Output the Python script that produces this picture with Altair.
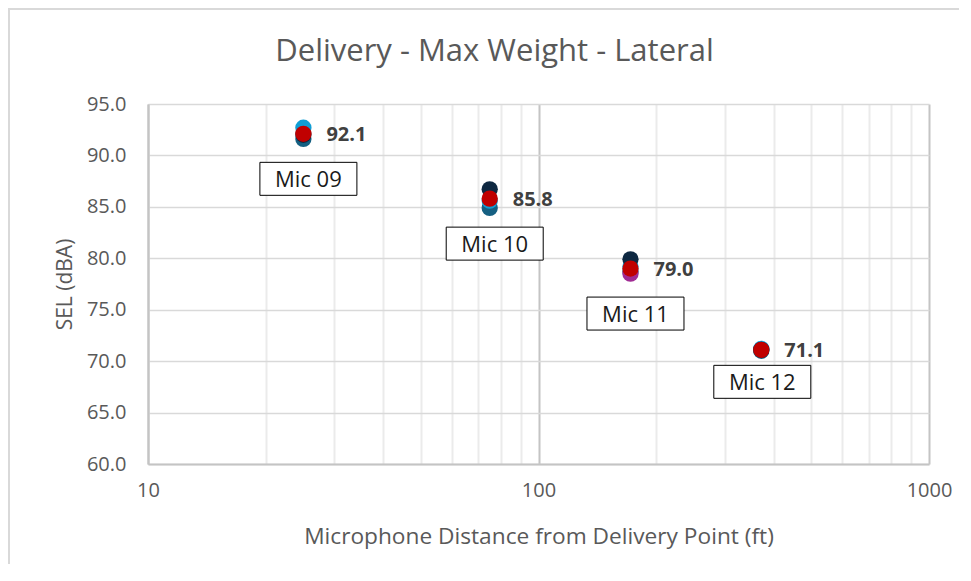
import altair as alt
import pandas as pd
import numpy as np

# ---- data ----
mics = ["Mic 09", "Mic 10", "Mic 11", "Mic 12"]
distance_ft = [25, 75, 172, 372]
event_names = ["Event 1", "Event 2", "Event 3", "Event 4"]
event_1 = [91.6, 84.9, 78.7, 71.0]
event_2 = [92.7, 85.6, 79.2, 71.2]
event_3 = [92.0, 86.7, 79.9, 71.1]
event_4 = [np.nan, np.nan, 78.5, np.nan]
mean_sel = [92.1, 85.8, 79.0, 71.1]
event_colors = ["#156082", "#0F9ED5", "#0E2841", "#A02B93"]
x_ticks = [10, 20, 30, 40, 50, 60, 70, 80, 90, 100,
           200, 300, 400, 500, 600, 700, 800, 900, 1000]
y_ticks = [60, 65, 70, 75, 80, 85, 90, 95]

rows = []
for name, vals in zip(event_names, [event_1, event_2, event_3, event_4]):
    for m, d, v in zip(mics, distance_ft, vals):
        if not np.isnan(v):
            rows.append({"mic": m, "distance": d, "event": name, "sel": v})
events_df = pd.DataFrame(rows)
mean_df = pd.DataFrame({"mic": mics, "distance": distance_ft, "sel": mean_sel})

FONT = "Open Sans"
GREY = "#595959"

x_enc = alt.X(
    "distance:Q",
    scale=alt.Scale(type="log", domain=[10, 1000], nice=False),
    axis=alt.Axis(
        values=x_ticks,
        title="Microphone Distance from Delivery Point (ft)",
        labelExpr="(datum.value == 10 || datum.value == 100 || datum.value == 1000) ? format(datum.value, 'd') : ''",
        labelOverlap=False, labelFlush=False, labelBound=False,
        grid=True,
        gridColor={"condition": {"test": "datum.value == 10 || datum.value == 100 || datum.value == 1000",
                                 "value": "#c4c4c4"}, "value": "#ebebeb"},
        gridWidth=2,
        ticks=False, tickSize=0,
        domainColor="#c4c4c4", domainWidth=2,
        labelFont=FONT, labelFontSize=20, labelColor=GREY, labelPadding=16,
        titleFont=FONT, titleFontSize=22.7, titleColor=GREY, titleFontWeight="normal",
        titlePadding=25,
    ),
)
y_enc = alt.Y(
    "sel:Q",
    scale=alt.Scale(domain=[60, 95], nice=False, zero=False),
    axis=alt.Axis(
        values=y_ticks, format=".1f", title="SEL (dBA)",
        grid=True, gridColor="#d9d9d9", gridWidth=1.5,
        ticks=False, tickSize=0,
        domainColor="#c4c4c4", domainWidth=2,
        labelFont=FONT, labelFontSize=20, labelColor=GREY, labelPadding=22,
        titleFont=FONT, titleFontSize=21, titleColor=GREY, titleFontWeight="normal",
        titlePadding=11,
    ),
)

frame_left = alt.Chart(mean_df).mark_rule(color="#d9d9d9", strokeWidth=2).encode(
    x=alt.value(-139), y=alt.value(-95), y2=alt.value(600))
frame_top = alt.Chart(mean_df).mark_rule(color="#d9d9d9", strokeWidth=2).encode(
    x=alt.value(-140), x2=alt.value(900), y=alt.value(-95))

pts = alt.Chart(events_df).mark_circle(size=265, opacity=1).encode(
    x=x_enc, y=y_enc,
    color=alt.Color("event:N", scale=alt.Scale(domain=event_names, range=event_colors), legend=None),
    order=alt.Order("event:N"),
)
mean_pts = alt.Chart(mean_df).mark_circle(size=265, opacity=1, color="#C00000").encode(
    x="distance:Q", y="sel:Q")
mean_lbl = alt.Chart(mean_df).mark_text(
    align="left", baseline="middle", dx=23, dy=1, font=FONT, fontSize=20,
    fontWeight="bold", color="#404040").encode(
    x="distance:Q", y="sel:Q", text=alt.Text("sel:Q", format=".1f"))

def box_layer(filter_expr, dx, dy):
    base = alt.Chart(mean_df).transform_filter(filter_expr)
    box = base.mark_point(
        shape="M-1,-0.34H1V0.34H-1Z", size=9409, filled=True, fill="white",
        stroke="black", strokeWidth=1, opacity=1, xOffset=dx, yOffset=dy,
    ).encode(x="distance:Q", y="sel:Q")
    txt = base.mark_text(
        font=FONT, fontSize=22, color="#1a1a1a", dx=dx, dy=dy + 1,
        baseline="middle", align="center").encode(
        x="distance:Q", y="sel:Q", text="mic:N")
    return box + txt

labels_a = box_layer("datum.mic != 'Mic 12'", 5, 45)
labels_b = box_layer("datum.mic == 'Mic 12'", 1, 32)

chart = alt.layer(
    frame_left, frame_top, pts, mean_pts, mean_lbl, labels_a, labels_b
).properties(
    width=781, height=360,
    title=alt.TitleParams("Delivery - Max Weight - Lateral", font=FONT, fontSize=31,
                          fontWeight="normal", color=GREY, anchor="middle", dx=-44,
                          offset=0, dy=60),
    autosize=alt.AutoSizeParams(type="none"),
    padding={"left": 140, "top": 96, "right": 30, "bottom": 100},
    background="white",
).configure_view(stroke=None)

chart.save("out.html", embed_options={"renderer": "svg", "actions": False})
